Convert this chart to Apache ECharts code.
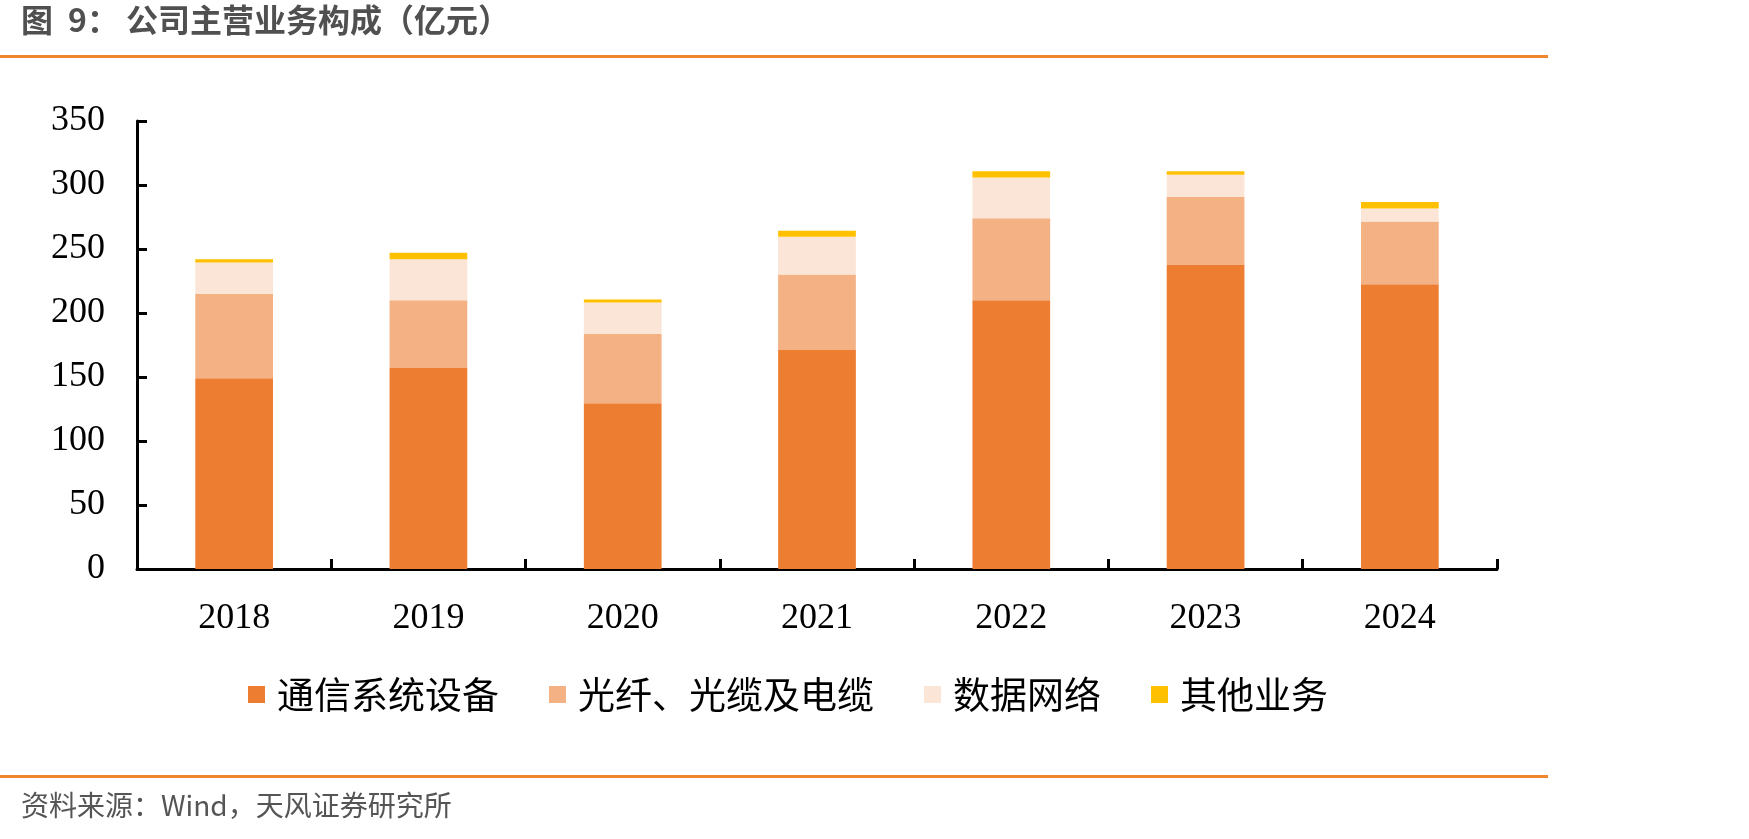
<!DOCTYPE html>
<html>
<head>
<meta charset="utf-8">
<script src="https://cdn.jsdelivr.net/npm/echarts@6/dist/echarts.min.js"></script>
<style>
html,body{margin:0;padding:0;background:#fff;}
#c{width:1749px;height:839px;}
</style>
</head>
<body>
<div id="c"></div>
<script>
const categories = ['2018','2019','2020','2021','2022','2023','2024'];
const seriesNames = ['通信系统设备','光纤、光缆及电缆','数据网络','其他业务'];
const telecomEquip = [149, 157, 129.5, 171, 210, 237.5, 222.5];
const fiberCable   = [66, 53, 54, 59, 64, 53.3, 49];
const dataNetwork  = [24.5, 32, 24.8, 29.5, 31.8, 17.3, 10.2];
const otherBiz     = [2.5, 5, 2.3, 4.7, 4.9, 2.6, 5];
const yTicks = [0, 50, 100, 150, 200, 250, 300, 350];
const titlePrefix = '图';
const titleNumber = '9：';
const titleText = '公司主营业务构成（亿元）';
const sourceText = '资料来源：Wind，天风证券研究所';

const colors = ['#ED7D31', '#F4B183', '#FBE5D6', '#FFC000'];
const values = [telecomEquip, fiberCable, dataNetwork, otherBiz];

const titleFont = 'bold 32px "Noto Sans CJK SC"';
const chart = echarts.init(document.getElementById('c'));
chart.setOption({
  animation: false,
  backgroundColor: '#fff',
  color: colors,
  grid: { left: 137, right: 252, top: 121, bottom: 270, containLabel: false },
  legend: {
    left: 243, top: 671,
    itemWidth: 17, itemHeight: 17, itemGap: 50,
    icon: 'rect',
    textStyle: { fontFamily: 'Noto Sans CJK SC', fontSize: 37, color: '#000', padding: [0,0,0,7] },
    data: seriesNames
  },
  xAxis: {
    type: 'category',
    data: categories,
    boundaryGap: true,
    axisLine: { lineStyle: { color: '#000', width: 3 } },
    axisTick: { show: true, inside: true, length: 10, lineStyle: { color: '#000', width: 3 }, alignWithLabel: false },
    axisLabel: { fontFamily: 'Liberation Serif', fontSize: 36, color: '#000', margin: 32 }
  },
  yAxis: {
    type: 'value',
    min: yTicks[0], max: yTicks[yTicks.length - 1], interval: 50,
    splitLine: { show: false },
    axisLine: { show: true, lineStyle: { color: '#000', width: 3 } },
    axisTick: { show: true, inside: true, length: 10, lineStyle: { color: '#000', width: 3 } },
    axisLabel: { fontFamily: 'Liberation Serif', fontSize: 36, color: '#000', margin: 32 }
  },
  series: seriesNames.map((n, i) => ({
    name: n,
    type: 'bar',
    stack: 'total',
    barWidth: '40%',
    data: values[i],
    itemStyle: { color: colors[i] }
  })),
  graphic: [
    { type: 'text', left: 21, top: 4, style: { text: titlePrefix, font: titleFont, fill: '#505050' } },
    { type: 'text', left: 68, top: 4, style: { text: titleNumber, font: titleFont, fill: '#505050' } },
    { type: 'text', left: 126, top: 4, style: { text: titleText, font: titleFont, fill: '#505050' } },
    { type: 'rect', shape: { x: 0, y: 55, width: 1548, height: 3 }, style: { fill: '#F0862A' } },
    { type: 'rect', shape: { x: 0, y: 775, width: 1548, height: 3 }, style: { fill: '#F0862A' } },
    { type: 'text', left: 21, top: 791, style: { text: sourceText, font: '28px "Noto Sans CJK SC"', fill: '#555' } }
  ]
});
</script>
</body>
</html>
